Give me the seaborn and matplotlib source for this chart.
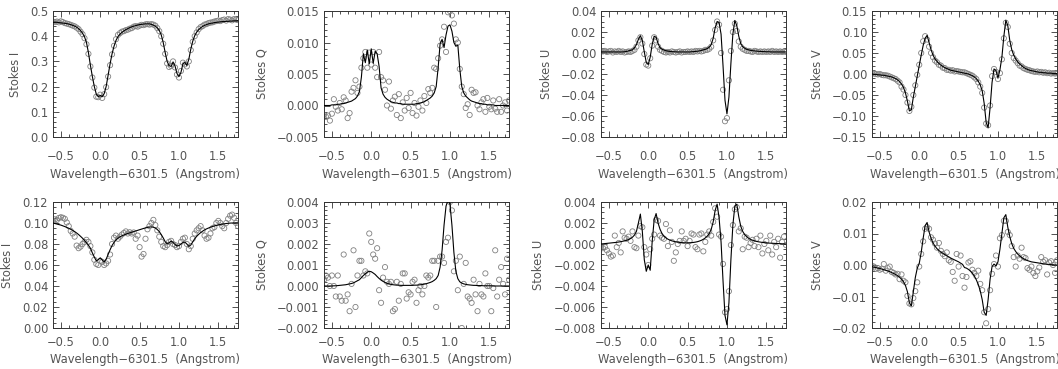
import numpy as np
import pandas as pd
import seaborn as sns
import matplotlib
matplotlib.use("Agg")
import matplotlib.pyplot as plt
from matplotlib.ticker import MultipleLocator, FuncFormatter

# eje de longitud de onda (Angstrom, relativo a 6301.5)
wave = [-0.600, -0.575, -0.550, -0.525, -0.500, -0.475, -0.450, -0.425, -0.400, -0.375,
        -0.350, -0.325, -0.300, -0.275, -0.250, -0.225, -0.200, -0.175, -0.150, -0.125,
        -0.100, -0.075, -0.050, -0.025, 0.000, 0.025, 0.050, 0.075, 0.100, 0.125,
        0.150, 0.175, 0.200, 0.225, 0.250, 0.275, 0.300, 0.325, 0.350, 0.375,
        0.400, 0.425, 0.450, 0.475, 0.500, 0.525, 0.550, 0.575, 0.600, 0.625,
        0.650, 0.675, 0.700, 0.725, 0.750, 0.775, 0.800, 0.825, 0.850, 0.875,
        0.900, 0.925, 0.950, 0.975, 1.000, 1.025, 1.050, 1.075, 1.100, 1.125,
        1.150, 1.175, 1.200, 1.225, 1.250, 1.275, 1.300, 1.325, 1.350, 1.375,
        1.400, 1.425, 1.450, 1.475, 1.500, 1.525, 1.550, 1.575, 1.600, 1.625,
        1.650, 1.675, 1.700, 1.725, 1.750]

# fila de arriba: pixel fuerte
i_top_fit = [0.455, 0.455, 0.455, 0.454, 0.453, 0.452, 0.451, 0.450, 0.448, 0.446,
             0.443, 0.440, 0.436, 0.430, 0.422, 0.412, 0.398, 0.375, 0.335, 0.285,
             0.240, 0.200, 0.170, 0.160, 0.165, 0.160, 0.172, 0.200, 0.245, 0.290,
             0.330, 0.360, 0.383, 0.398, 0.408, 0.415, 0.421, 0.426, 0.430, 0.434,
             0.437, 0.440, 0.442, 0.444, 0.446, 0.447, 0.448, 0.449, 0.449, 0.449,
             0.447, 0.444, 0.440, 0.433, 0.423, 0.405, 0.375, 0.335, 0.300, 0.283,
             0.280, 0.298, 0.282, 0.252, 0.240, 0.256, 0.290, 0.296, 0.284, 0.308,
             0.348, 0.380, 0.402, 0.416, 0.426, 0.433, 0.439, 0.443, 0.446, 0.449,
             0.451, 0.452, 0.454, 0.455, 0.456, 0.457, 0.458, 0.458, 0.459, 0.459,
             0.460, 0.460, 0.461, 0.461, 0.462]
i_top_obs = [0.458, 0.456, 0.458, 0.455, 0.459, 0.456, 0.452, 0.450, 0.448, 0.445,
             0.442, 0.439, 0.434, 0.428, 0.418, 0.408, 0.392, 0.368, 0.330, 0.280,
             0.236, 0.196, 0.160, 0.158, 0.168, 0.155, 0.170, 0.198, 0.240, 0.285,
             0.328, 0.362, 0.388, 0.405, 0.412, 0.418, 0.420, 0.424, 0.426, 0.430,
             0.432, 0.438, 0.440, 0.438, 0.442, 0.445, 0.444, 0.447, 0.448, 0.446,
             0.448, 0.446, 0.442, 0.432, 0.420, 0.400, 0.370, 0.330, 0.292, 0.278,
             0.282, 0.300, 0.276, 0.248, 0.236, 0.262, 0.295, 0.288, 0.280, 0.300,
             0.345, 0.378, 0.400, 0.415, 0.428, 0.436, 0.440, 0.446, 0.448, 0.452,
             0.454, 0.455, 0.458, 0.460, 0.462, 0.460, 0.464, 0.466, 0.462, 0.468,
             0.466, 0.463, 0.468, 0.466, 0.464]

q_top_fit = [0.0000, 0.0000, 0.0000, 0.0000, 0.0001, 0.0001, 0.0001, 0.0002, 0.0002, 0.0003,
             0.0003, 0.0004, 0.0005, 0.0006, 0.0007, 0.0009, 0.0011, 0.0015, 0.0022, 0.0045,
             0.0082, 0.0068, 0.0088, 0.0066, 0.0090, 0.0067, 0.0086, 0.0082, 0.0062, 0.0028,
             0.0018, 0.0013, 0.0010, 0.0008, 0.0006, 0.0005, 0.0004, 0.0004, 0.0003, 0.0003,
             0.0002, 0.0002, 0.0002, 0.0002, 0.0002, 0.0002, 0.0002, 0.0003, 0.0003, 0.0004,
             0.0005, 0.0006, 0.0008, 0.0010, 0.0012, 0.0015, 0.0020, 0.0030, 0.0060, 0.0098,
             0.0105, 0.0092, 0.0112, 0.0126, 0.0128, 0.0118, 0.0100, 0.0094, 0.0096, 0.0058,
             0.0030, 0.0020, 0.0015, 0.0012, 0.0009, 0.0007, 0.0006, 0.0005, 0.0004, 0.0003,
             0.0003, 0.0002, 0.0002, 0.0001, 0.0001, 0.0001, 0.0001, 0.0000, 0.0000, 0.0000,
             0.0000, 0.0000, 0.0000, 0.0000, 0.0000]
q_top_obs = [-0.0015, -0.0018, -0.0016, -0.0024, -0.0013, 0.0010, -0.0002, -0.0008, 0.0004, -0.0006,
             0.0013, 0.0008, -0.0020, -0.0012, 0.0022, 0.0028, 0.0040, 0.0020, 0.0030, 0.0060,
             0.0075, 0.0085, 0.0060, 0.0084, 0.0065, 0.0085, 0.0060, 0.0045, 0.0085, 0.0045,
             0.0040, 0.0025, 0.0000, 0.0038, -0.0005, 0.0008, 0.0014, -0.0015, 0.0018, -0.0020,
             0.0005, -0.0008, 0.0012, -0.0004, 0.0020, -0.0012, 0.0004, -0.0016, -0.0002, 0.0008,
             -0.0008, 0.0015, 0.0004, 0.0026, 0.0020, 0.0028, 0.0060, 0.0058, 0.0075, 0.0095,
             0.0105, 0.0125, 0.0085, 0.0148, 0.0150, 0.0143, 0.0130, 0.0105, 0.0100, 0.0058,
             0.0030, 0.0018, -0.0004, 0.0002, -0.0015, 0.0025, 0.0020, 0.0021, 0.0000, -0.0006,
             0.0005, 0.0010, -0.0010, 0.0012, -0.0002, -0.0006, 0.0008, -0.0005, -0.0010, 0.0010,
             -0.0010, 0.0000, 0.0005, -0.0008, 0.0008]

u_top_fit = [0.0010, 0.0010, 0.0010, 0.0010, 0.0010, 0.0010, 0.0010, 0.0010, 0.0010, 0.0010,
             0.0010, 0.0010, 0.0012, 0.0015, 0.0020, 0.0025, 0.0030, 0.0050, 0.0080, 0.0130,
             0.0165, 0.0120, 0.0010, -0.0090, -0.0110, -0.0040, 0.0080, 0.0160, 0.0150, 0.0090,
             0.0050, 0.0035, 0.0028, 0.0022, 0.0018, 0.0015, 0.0013, 0.0012, 0.0011, 0.0010,
             0.0010, 0.0010, 0.0010, 0.0010, 0.0010, 0.0010, 0.0012, 0.0013, 0.0015, 0.0017,
             0.0020, 0.0024, 0.0030, 0.0035, 0.0042, 0.0055, 0.0080, 0.0140, 0.0240, 0.0300,
             0.0290, 0.0180, -0.0120, -0.0450, -0.0580, -0.0420, -0.0100, 0.0180, 0.0310, 0.0260,
             0.0160, 0.0090, 0.0060, 0.0045, 0.0035, 0.0030, 0.0025, 0.0022, 0.0020, 0.0018,
             0.0016, 0.0015, 0.0014, 0.0013, 0.0012, 0.0012, 0.0011, 0.0010, 0.0010, 0.0010,
             0.0010, 0.0010, 0.0010, 0.0010, 0.0010]
u_top_obs = [0.0020, 0.0015, 0.0020, 0.0010, 0.0015, 0.0020, 0.0005, 0.0015, 0.0010, 0.0020,
             0.0010, 0.0015, 0.0005, 0.0010, 0.0015, 0.0010, 0.0020, 0.0030, 0.0060, 0.0120,
             0.0150, 0.0090, -0.0010, -0.0110, -0.0120, -0.0050, 0.0070, 0.0150, 0.0120, 0.0060,
             0.0030, 0.0020, 0.0010, 0.0005, 0.0010, 0.0005, 0.0015, 0.0010, 0.0005, 0.0010,
             0.0015, 0.0005, 0.0010, 0.0010, 0.0015, 0.0010, 0.0015, 0.0010, 0.0020, 0.0015,
             0.0020, 0.0015, 0.0020, 0.0030, 0.0030, 0.0040, 0.0060, 0.0120, 0.0220, 0.0300,
             0.0270, 0.0000, -0.0350, -0.0650, -0.0620, -0.0260, 0.0020, 0.0200, 0.0280, 0.0210,
             0.0110, 0.0060, 0.0040, 0.0030, 0.0020, 0.0020, 0.0015, 0.0010, 0.0020, 0.0015,
             0.0010, 0.0015, 0.0010, 0.0015, 0.0010, 0.0015, 0.0010, 0.0020, 0.0010, 0.0015,
             0.0010, 0.0015, 0.0010, 0.0015, 0.0010]

v_top_fit = [0.000, -0.001, -0.001, -0.002, -0.002, -0.003, -0.003, -0.004, -0.005, -0.006,
             -0.007, -0.009, -0.011, -0.014, -0.018, -0.024, -0.032, -0.045, -0.065, -0.088,
             -0.085, -0.055, -0.030, -0.005, 0.020, 0.045, 0.068, 0.085, 0.092, 0.075,
             0.058, 0.045, 0.036, 0.030, 0.025, 0.021, 0.018, 0.015, 0.013, 0.011,
             0.009, 0.008, 0.007, 0.006, 0.005, 0.004, 0.003, 0.002, 0.001, 0.000,
             -0.002, -0.004, -0.007, -0.011, -0.017, -0.026, -0.040, -0.070, -0.115, -0.128,
             -0.080, -0.020, 0.012, 0.008, -0.010, 0.010, 0.040, 0.090, 0.128, 0.115,
             0.080, 0.058, 0.045, 0.036, 0.029, 0.024, 0.020, 0.016, 0.013, 0.011,
             0.009, 0.008, 0.007, 0.006, 0.005, 0.004, 0.004, 0.003, 0.003, 0.002,
             0.002, 0.002, 0.001, 0.001, 0.001]
v_top_obs = [0.002, 0.001, 0.000, -0.001, 0.000, -0.002, -0.003, -0.003, -0.004, -0.006,
             -0.008, -0.010, -0.012, -0.016, -0.020, -0.030, -0.037, -0.050, -0.068, -0.088,
             -0.078, -0.050, -0.027, -0.002, 0.022, 0.050, 0.078, 0.090, 0.082, 0.065,
             0.050, 0.040, 0.032, 0.028, 0.022, 0.020, 0.015, 0.014, 0.010, 0.010,
             0.008, 0.009, 0.006, 0.007, 0.006, 0.005, 0.004, 0.004, 0.002, 0.000,
             -0.002, -0.004, -0.008, -0.012, -0.020, -0.030, -0.045, -0.080, -0.118, -0.122,
             -0.075, -0.005, 0.012, 0.005, -0.012, 0.002, 0.035, 0.085, 0.122, 0.112,
             0.072, 0.050, 0.038, 0.032, 0.026, 0.020, 0.018, 0.014, 0.012, 0.010,
             0.009, 0.007, 0.006, 0.005, 0.006, 0.004, 0.005, 0.003, 0.004, 0.002,
             0.003, 0.001, 0.002, 0.001, 0.002]

# fila de abajo: pixel debil
i_bot_fit = [0.1000, 0.0995, 0.0990, 0.0985, 0.0980, 0.0973, 0.0966, 0.0958, 0.0950, 0.0940,
             0.0930, 0.0918, 0.0905, 0.0890, 0.0873, 0.0855, 0.0835, 0.0812, 0.0788, 0.0760,
             0.0715, 0.0675, 0.0640, 0.0650, 0.0668, 0.0648, 0.0630, 0.0655, 0.0700, 0.0745,
             0.0785, 0.0815, 0.0838, 0.0855, 0.0868, 0.0878, 0.0886, 0.0893, 0.0900, 0.0906,
             0.0912, 0.0918, 0.0924, 0.0930, 0.0936, 0.0942, 0.0948, 0.0953, 0.0958, 0.0962,
             0.0963, 0.0960, 0.0952, 0.0938, 0.0918, 0.0890, 0.0858, 0.0822, 0.0800, 0.0812,
             0.0828, 0.0815, 0.0795, 0.0782, 0.0785, 0.0800, 0.0815, 0.0818, 0.0800, 0.0778,
             0.0790, 0.0820, 0.0850, 0.0873, 0.0892, 0.0908, 0.0922, 0.0934, 0.0944, 0.0952,
             0.0960, 0.0966, 0.0972, 0.0977, 0.0982, 0.0986, 0.0989, 0.0992, 0.0995, 0.0997,
             0.0999, 0.1000, 0.1001, 0.1002, 0.1002]
i_bot_obs = [0.1020, 0.1035, 0.1030, 0.1048, 0.1055, 0.1050, 0.1040, 0.1005, 0.0970, 0.0925,
             0.0900, 0.0870, 0.0785, 0.0760, 0.0775, 0.0800, 0.0820, 0.0840, 0.0820, 0.0780,
             0.0720, 0.0650, 0.0610, 0.0600, 0.0640, 0.0630, 0.0600, 0.0615, 0.0640, 0.0700,
             0.0800, 0.0860, 0.0880, 0.0850, 0.0870, 0.0890, 0.0905, 0.0920, 0.0900, 0.0912,
             0.0900, 0.0910, 0.0850, 0.0880, 0.0770, 0.0680, 0.0705, 0.0850, 0.0940, 0.0970,
             0.1000, 0.1030, 0.0980, 0.0930, 0.0870, 0.0820, 0.0780, 0.0770, 0.0790, 0.0820,
             0.0830, 0.0800, 0.0790, 0.0770, 0.0780, 0.0820, 0.0850, 0.0860, 0.0800, 0.0750,
             0.0780, 0.0850, 0.0900, 0.0930, 0.0950, 0.0970, 0.0930, 0.0880, 0.0850, 0.0860,
             0.0900, 0.0950, 0.0960, 0.1000, 0.1020, 0.1000, 0.0970, 0.0950, 0.1000, 0.1040,
             0.1070, 0.1080, 0.1050, 0.1000, 0.0970]

q_bot_fit = [0.00000, 0.00000, 0.00000, 0.00000, 0.00000, 0.00001, 0.00001, 0.00002, 0.00003, 0.00004,
             0.00005, 0.00006, 0.00008, 0.00010, 0.00012, 0.00015, 0.00020, 0.00025, 0.00030, 0.00040,
             0.00050, 0.00058, 0.00066, 0.00070, 0.00068, 0.00062, 0.00055, 0.00045, 0.00036, 0.00028,
             0.00022, 0.00017, 0.00013, 0.00010, 0.00008, 0.00006, 0.00005, 0.00004, 0.00004, 0.00003,
             0.00003, 0.00003, 0.00003, 0.00003, 0.00003, 0.00003, 0.00004, 0.00004, 0.00005, 0.00006,
             0.00007, 0.00009, 0.00011, 0.00014, 0.00017, 0.00021, 0.00027, 0.00035, 0.00050, 0.00090,
             0.00170, 0.00290, 0.00380, 0.00410, 0.00390, 0.00290, 0.00160, 0.00070, 0.00035, 0.00020,
             0.00014, 0.00010, 0.00008, 0.00006, 0.00005, 0.00004, 0.00003, 0.00003, 0.00002, 0.00002,
             0.00002, 0.00001, 0.00001, 0.00001, 0.00001, 0.00001, 0.00000, 0.00000, 0.00000, 0.00000,
             0.00000, 0.00000, 0.00000, 0.00000, 0.00000]
q_bot_obs = [0.0003, 0.0005, 0.0004, 0.0000, 0.0005, 0.0000, -0.0005, 0.0005, -0.0005, -0.0007,
             0.0015, -0.0007, -0.0004, -0.0012, 0.0001, 0.0017, -0.0010, 0.0005, 0.0012, 0.0012,
             0.0005, 0.0007, 0.0006, 0.0025, 0.0021, 0.0015, 0.0013, 0.0018, -0.0002, -0.0008,
             0.0004, 0.0009, 0.0002, 0.0001, 0.0002, -0.0012, -0.0011, 0.0002, -0.0007, 0.0001,
             0.0006, 0.0006, -0.0006, -0.0003, -0.0004, 0.0002, 0.0003, -0.0008, -0.0002, 0.0000,
             -0.0004, 0.0000, 0.0005, 0.0004, 0.0005, 0.0012, 0.0012, -0.0010, 0.0012, 0.0014,
             0.0014, 0.0011, 0.0021, 0.0023, 0.0040, 0.0036, 0.0007, 0.0012, -0.0002, 0.0014,
             -0.0020, 0.0001, 0.0011, -0.0005, -0.0006, -0.0008, 0.0003, -0.0004, -0.0012, 0.0001,
             -0.0004, -0.0005, 0.0006, 0.0000, 0.0000, -0.0012, -0.0001, 0.0017, -0.0005, 0.0003,
             0.0009, 0.0001, -0.0004, 0.0013, 0.0003]

u_bot_fit = [0.00000, 0.00002, 0.00004, 0.00006, 0.00008, 0.00010, 0.00012, 0.00014, 0.00016, 0.00019,
             0.00022, 0.00026, 0.00030, 0.00035, 0.00042, 0.00052, 0.00065, 0.00085, 0.00120, 0.00200,
             0.00285, 0.00120, -0.00150, -0.00260, -0.00200, -0.00250, 0.00020, 0.00230, 0.00290, 0.00200,
             0.00140, 0.00100, 0.00075, 0.00058, 0.00046, 0.00037, 0.00030, 0.00025, 0.00021, 0.00018,
             0.00015, 0.00013, 0.00012, 0.00011, 0.00011, 0.00012, 0.00013, 0.00015, 0.00018, 0.00022,
             0.00028, 0.00035, 0.00045, 0.00058, 0.00075, 0.00100, 0.00140, 0.00210, 0.00320, 0.00380,
             0.00250, 0.00020, -0.00350, -0.00680, -0.00770, -0.00560, -0.00150, 0.00180, 0.00360, 0.00380,
             0.00260, 0.00170, 0.00120, 0.00090, 0.00070, 0.00055, 0.00044, 0.00036, 0.00030, 0.00025,
             0.00021, 0.00018, 0.00015, 0.00013, 0.00011, 0.00009, 0.00008, 0.00007, 0.00006, 0.00005,
             0.00004, 0.00003, 0.00002, 0.00001, 0.00000]
u_bot_obs = [-0.0003, -0.0004, -0.0003, -0.0006, -0.0009, -0.0012, -0.0011, 0.0008, -0.0003, 0.0001,
             -0.0008, 0.0012, 0.0006, 0.0005, 0.0007, 0.0003, 0.0012, -0.0003, -0.0004, 0.0008,
             0.0017, 0.0016, -0.0003, -0.0010, -0.0020, -0.0005, 0.0005, 0.0009, 0.0023, 0.0022,
             0.0008, 0.0006, 0.0005, 0.0019, -0.0002, 0.0013, 0.0002, -0.0016, -0.0008, 0.0000,
             0.0003, 0.0012, 0.0003, 0.0005, -0.0002, 0.0003, 0.0010, 0.0009, -0.0003, -0.0005,
             0.0009, 0.0010, -0.0007, 0.0002, 0.0009, 0.0012, 0.0008, 0.0021, 0.0034, 0.0026,
             0.0009, 0.0007, -0.0019, -0.0065, -0.0062, -0.0045, -0.0001, 0.0018, 0.0033, 0.0035,
             0.0012, 0.0015, -0.0005, 0.0007, 0.0006, -0.0003, 0.0001, 0.0004, -0.0002, 0.0005,
             -0.0003, 0.0008, -0.0009, 0.0000, 0.0003, -0.0006, 0.0008, -0.0010, 0.0002, -0.0003,
             0.0005, -0.0013, 0.0002, 0.0007, -0.0001]

v_bot_fit = [-0.0005, -0.0007, -0.0008, -0.0010, -0.0011, -0.0013, -0.0015, -0.0017, -0.0019, -0.0021,
             -0.0024, -0.0027, -0.0030, -0.0034, -0.0039, -0.0045, -0.0053, -0.0065, -0.0085, -0.0120,
             -0.0130, -0.0085, -0.0040, -0.0010, 0.0005, 0.0040, 0.0085, 0.0125, 0.0135, 0.0105,
             0.0085, 0.0070, 0.0060, 0.0052, 0.0046, 0.0041, 0.0037, 0.0033, 0.0029, 0.0026,
             0.0022, 0.0019, 0.0016, 0.0013, 0.0010, 0.0006, 0.0002, -0.0008, -0.0010, -0.0014,
             -0.0019, -0.0026, -0.0035, -0.0047, -0.0062, -0.0082, -0.0110, -0.0150, -0.0160, -0.0110,
             -0.0045, -0.0005, 0.0003, -0.0003, 0.0010, 0.0050, 0.0100, 0.0150, 0.0160, 0.0120,
             0.0090, 0.0068, 0.0053, 0.0043, 0.0035, 0.0029, 0.0024, 0.0020, 0.0017, 0.0014,
             0.0012, 0.0010, 0.0009, 0.0008, 0.0007, 0.0006, 0.0005, 0.0004, 0.0003, 0.0002,
             0.0002, 0.0001, 0.0001, 0.0000, 0.0000]
v_bot_obs = [-0.0003, -0.0005, -0.0012, -0.0010, -0.0015, -0.0012, 0.0003, -0.0018, -0.0010, -0.0005,
             -0.0022, -0.0025, -0.0030, -0.0028, -0.0045, -0.0030, -0.0050, -0.0055, -0.0098, -0.0122,
             -0.0125, -0.0105, -0.0083, -0.0055, -0.0005, 0.0035, 0.0075, 0.0115, 0.0120, 0.0115,
             0.0088, 0.0080, 0.0068, 0.0055, 0.0070, 0.0045, 0.0035, 0.0028, 0.0040, 0.0015,
             0.0010, -0.0022, -0.0050, 0.0035, -0.0005, 0.0030, -0.0035, -0.0072, -0.0038, 0.0008,
             0.0012, -0.0015, -0.0025, -0.0035, -0.0018, -0.0060, -0.0080, -0.0150, -0.0185, -0.0140,
             -0.0080, -0.0028, 0.0003, 0.0030, -0.0005, 0.0085, 0.0095, 0.0140, 0.0140, 0.0105,
             0.0095, 0.0060, 0.0025, -0.0005, 0.0030, 0.0020, 0.0055, 0.0025, 0.0022, -0.0010,
             -0.0015, -0.0005, -0.0025, -0.0035, -0.0020, -0.0008, 0.0025, 0.0010, 0.0015, -0.0030,
             0.0008, 0.0012, 0.0000, -0.0025, 0.0015]

sns.set_style("ticks")
plt.rcParams['font.family'] = ['DejaVu Sans']
gris = '#555555'
tam = 8.3

fig = plt.figure(figsize=(10.58, 3.69), dpi=100)
W, H = 1058.0, 369.0

# (fila, columna, etiqueta, obs, ajuste, ylim, paso mayor, paso menor, formato)
paneles = [
    (0, 0, 'Stokes I', i_top_obs, i_top_fit, (0.0, 0.5), 0.1, 0.02, '%.1f'),
    (0, 1, 'Stokes Q', q_top_obs, q_top_fit, (-0.005, 0.015), 0.005, 0.001, '%.3f'),
    (0, 2, 'Stokes U', u_top_obs, u_top_fit, (-0.08, 0.04), 0.02, 0.005, '%.2f'),
    (0, 3, 'Stokes V', v_top_obs, v_top_fit, (-0.15, 0.15), 0.05, 0.01, '%.2f'),
    (1, 0, 'Stokes I', i_bot_obs, i_bot_fit, (0.0, 0.12), 0.02, 0.005, '%.2f'),
    (1, 1, 'Stokes Q', q_bot_obs, q_bot_fit, (-0.002, 0.004), 0.001, 0.0002, '%.3f'),
    (1, 2, 'Stokes U', u_bot_obs, u_bot_fit, (-0.008, 0.004), 0.002, 0.0005, '%.3f'),
    (1, 3, 'Stokes V', v_bot_obs, v_bot_fit, (-0.02, 0.02), 0.01, 0.002, '%.2f'),
]

izq = [53, 324, 601, 872]
arriba = [11, 202]
ancho, alto = 185, 126
# separacion de etiquetas del eje x por fila
pad_x = [9, 6]
pad_lab = [4, 3]

for fila, col, nombre, obs, fit, ylim, paso, menor, fmt in paneles:
    ax = fig.add_axes([izq[col] / W, 1 - (arriba[fila] + alto) / H, ancho / W, alto / H])
    df = pd.DataFrame({'wave': wave, 'obs': obs, 'fit': fit})
    sns.scatterplot(data=df, x='wave', y='obs', ax=ax, marker='o', s=14,
                    facecolor='none', edgecolor='#808080', linewidth=0.6, zorder=2)
    sns.lineplot(data=df, x='wave', y='fit', ax=ax, color='black', linewidth=0.8,
                 sort=False, zorder=3)
    ax.set_xlim(-0.6, 1.75)
    ax.set_ylim(*ylim)
    ax.xaxis.set_major_locator(MultipleLocator(0.5))
    ax.xaxis.set_minor_locator(MultipleLocator(0.1))
    ax.yaxis.set_major_locator(MultipleLocator(paso))
    ax.yaxis.set_minor_locator(MultipleLocator(menor))
    ax.xaxis.set_major_formatter(FuncFormatter(lambda v, p: ('%.1f' % v).replace('-', '\u2212')))
    ax.yaxis.set_major_formatter(FuncFormatter(lambda v, p, f=fmt: (f % v).replace('-', '\u2212')))
    ax.tick_params(which='both', direction='in', top=True, right=True, colors='#333333',
                   labelcolor=gris, labelsize=tam, width=0.6)
    ax.tick_params(axis='x', which='major', pad=pad_x[fila])
    ax.tick_params(axis='y', which='major', pad=3.5)
    ax.tick_params(which='major', length=4)
    ax.tick_params(which='minor', length=2)
    for s in ax.spines.values():
        s.set_color('#333333')
        s.set_linewidth(0.7)
    ax.set_xlabel('Wavelength\u22126301.5  (Angstrom)', color=gris, fontsize=tam,
                  labelpad=pad_lab[fila])
    ax.set_ylabel(nombre, color=gris, fontsize=tam, labelpad=6)

fig.savefig('out.png', dpi=100)
